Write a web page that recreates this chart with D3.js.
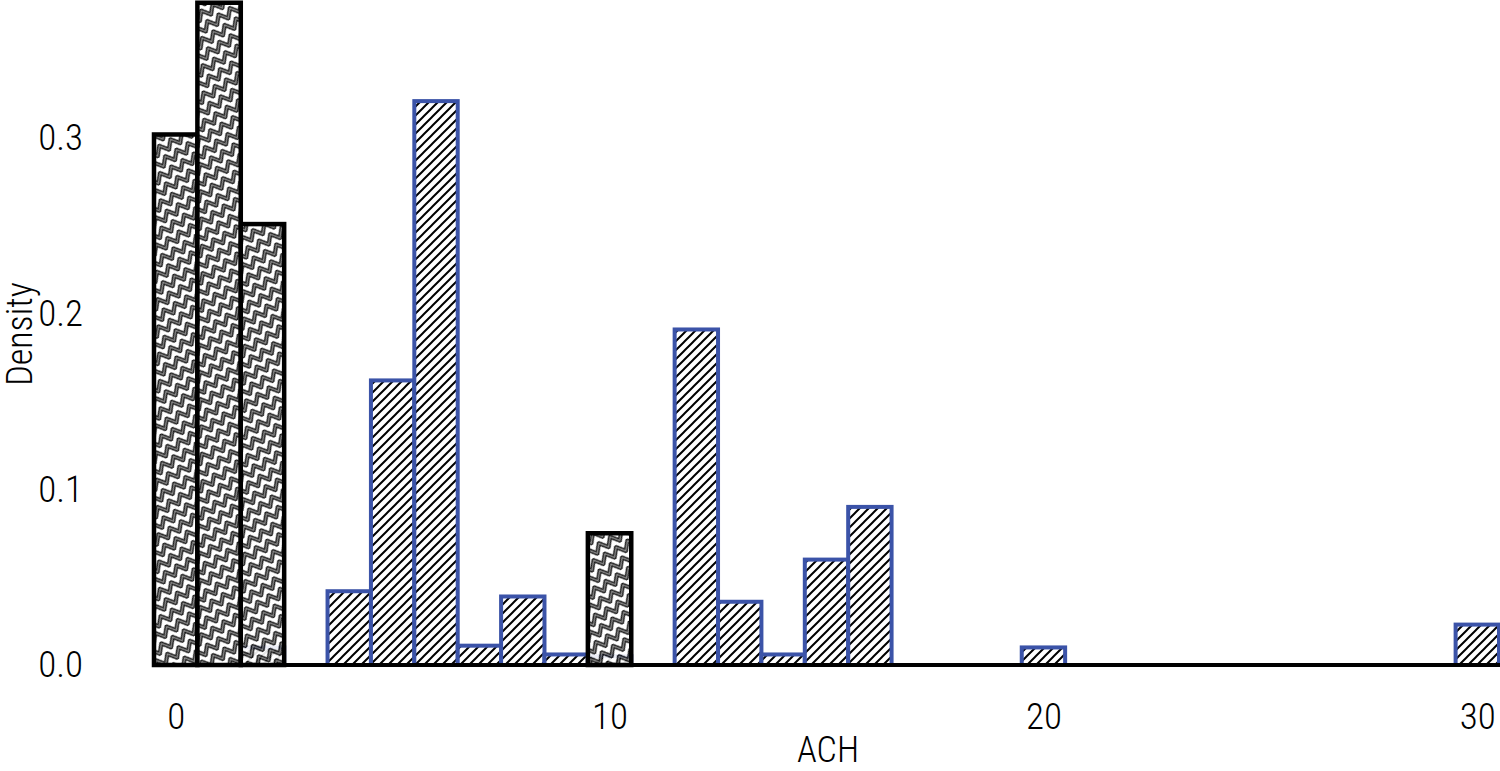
<!DOCTYPE html>
<html>
<head>
<meta charset="utf-8">
<script src="https://cdn.jsdelivr.net/npm/d3@7/dist/d3.min.js"></script>
<style>
  html, body { margin: 0; padding: 0; background: #fff; }
  svg { display: block; }
  text { font-family: "Liberation Sans Narrow", "Arial Narrow", "Roboto Condensed", "Liberation Sans", sans-serif; fill: #000; font-weight: 300; }
</style>
</head>
<body>
<svg id="chart" width="1500" height="771"></svg>
<script>
// ---- data ----
const blackBins   = [0, 1, 2, 10];
const blackValues = [0.302, 0.377, 0.251, 0.075];
const blueBins    = [2, 4, 5, 6, 7, 8, 9, 10, 12, 13, 14, 15, 16, 20, 30];
const blueValues  = [0.010, 0.042, 0.162, 0.321, 0.011, 0.039, 0.006, 0.005, 0.191, 0.036, 0.006, 0.060, 0.090, 0.010, 0.023];
const xTicks = [0, 10, 20, 30];
const yTicks = [0, 0.1, 0.2, 0.3];
const xTitle = "ACH";
const yTitle = "Density";

const svg = d3.select("#chart");
const x = d3.scaleLinear().domain([-0.5, 30.5]).range([154, 1499]);
const y = d3.scaleLinear().domain([0, 0.3]).range([665, 138]);

// ---- patterns ----
const defs = svg.append("defs");
const hs = 9;
const hatch = defs.append("pattern")
  .attr("id", "hatch").attr("patternUnits", "userSpaceOnUse")
  .attr("width", hs).attr("height", hs);
hatch.append("rect").attr("width", hs).attr("height", hs).attr("fill", "#fff");
hatch.append("path").attr("d", `M${-hs/4},${hs/4} L${hs/4},${-hs/4} M0,${hs} L${hs},0 M${hs*0.75},${hs*1.25} L${hs*1.25},${hs*0.75}`)
  .attr("stroke", "#000").attr("stroke-width", 2);

const zw = 13, zh = 12;
const zig = defs.append("pattern")
  .attr("id", "zig").attr("patternUnits", "userSpaceOnUse")
  .attr("width", zw).attr("height", zh)
  .attr("patternTransform", "rotate(-30)");
zig.append("rect").attr("width", zw).attr("height", zh).attr("fill", "#fff");
const zpath = `M${-zw/2},10 L0,2 L${zw/2},10 L${zw},2 L${zw*1.5},10`;
zig.append("path").attr("d", zpath).attr("fill", "none").attr("stroke", "#000").attr("stroke-width", 4.2).attr("stroke-linejoin", "miter");
zig.append("path").attr("d", zpath).attr("fill", "none").attr("stroke", "#8a8a8a").attr("stroke-width", 1.2);

// ---- bars ----
const blue = blueBins.map((b, i) => ({ b, v: blueValues[i] }));
const black = blackBins.map((b, i) => ({ b, v: blackValues[i] }));

svg.append("g").selectAll("rect").data(blue).join("rect")
  .attr("x", d => x(d.b - 0.5)).attr("width", d => x(d.b + 0.5) - x(d.b - 0.5))
  .attr("y", d => y(d.v)).attr("height", d => y(0) - y(d.v))
  .attr("fill", "url(#hatch)").attr("stroke", "#3b53a8").attr("stroke-width", 4);

const gb = svg.append("g");
gb.selectAll("rect.f").data(black).join("rect").attr("class", "f")
  .attr("x", d => x(d.b - 0.5)).attr("width", d => x(d.b + 0.5) - x(d.b - 0.5))
  .attr("y", d => y(d.v)).attr("height", d => y(0) - y(d.v))
  .attr("fill", "url(#zig)").attr("fill-opacity", 0.9)
  .attr("stroke", "#000").attr("stroke-width", 4.5);

// baseline
svg.append("line").attr("x1", x(-0.5) - 2).attr("x2", 1500).attr("y1", y(0)).attr("y2", y(0))
  .attr("stroke", "#000").attr("stroke-width", 4);

// ---- axes ----
const xa = svg.append("g").attr("transform", `translate(0,${y(0)})`)
  .call(d3.axisBottom(x).tickValues(xTicks).tickSize(0).tickPadding(38).tickFormat(d3.format("d")));
xa.select(".domain").remove();
xa.selectAll("text").style("font-size", "37px").style("font-family", null);

const ya = svg.append("g").attr("transform", "translate(88,0)")
  .call(d3.axisLeft(y).tickValues(yTicks).tickSize(0).tickPadding(5).tickFormat(d3.format(".1f")));
ya.select(".domain").remove();
ya.selectAll("text").style("font-size", "37px").style("font-family", null);

svg.append("text").attr("x", 828).attr("y", 762).attr("text-anchor", "middle")
  .style("font-size", "36px").text(xTitle);
svg.append("text").attr("transform", "translate(32,334) rotate(-90)").attr("text-anchor", "middle")
  .style("font-size", "36px").text(yTitle);
</script>
</body>
</html>
